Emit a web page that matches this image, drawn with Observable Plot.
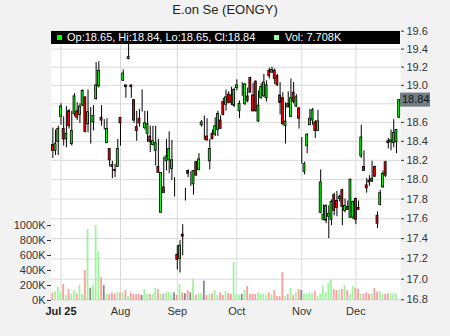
<!DOCTYPE html>
<html><head><meta charset="utf-8">
<script src="https://cdn.jsdelivr.net/npm/d3@7"></script>
<script src="https://cdn.jsdelivr.net/npm/@observablehq/plot@0.6"></script>
<style>
html,body{margin:0;padding:0;background:#f2f2f2;}
#wrap{position:relative;width:450px;height:336px;overflow:hidden;font-family:"Liberation Sans",Arial,sans-serif;}
#title{position:absolute;left:0;top:2px;width:450px;text-align:center;font-size:13px;line-height:16px;color:#222;}
.layer{position:absolute;left:0;top:20px;}
#legend{position:absolute;left:51px;top:31px;width:349px;height:13px;background:#000;color:#fff;font-size:11px;line-height:13px;white-space:nowrap;}
#legend .sq{position:absolute;top:4px;width:5px;height:5px;}
#legend .tx{position:absolute;top:0;}
</style></head>
<body>
<div id="wrap">
  <div id="title">E.on Se (EONGY)</div>
  <div id="p1" class="layer"></div>
  <div id="p2" class="layer"></div>
  <div id="legend"></div>
</div>
<script>
const title = "E.on Se (EONGY)";
const open  = [18.36,18.30,18.39,18.66,18.53,18.42,18.72,18.37,18.69,18.72,18.68,18.78,18.87,18.58,18.44,18.60,18.85,18.99,18.65,18.56,18.38,18.32,18.15,18.10,18.13,18.65,19.05,19.00,19.29,19.00,18.84,18.55,18.64,18.82,18.54,18.48,18.45,18.36,18.30,18.13,17.66,17.92,18.19,18.20,18.11,17.91,17.24,17.20,17.44,17.85,18.09,18.00,17.95,18.18,18.10,18.57,18.59,18.45,18.19,18.48,18.47,18.52,18.62,18.82,18.79,18.90,18.89,18.78,18.97,18.72,18.89,18.80,18.88,19.08,18.89,19.04,18.61,18.86,18.88,18.86,19.16,19.14,19.16,19.10,18.89,18.86,18.56,18.80,18.66,18.92,18.77,18.75,18.33,18.08,18.35,18.57,18.62,18.60,18.51,17.66,17.59,17.58,17.62,17.59,17.84,17.78,17.80,17.89,17.68,17.72,17.61,17.61,17.80,17.71,18.24,18.13,17.94,17.99,17.98,18.13,17.63,17.74,17.92,18.18,18.40,18.39,18.38,18.39,18.65];
const high  = [18.54,18.52,18.56,18.80,18.66,18.77,18.74,18.72,18.91,18.81,18.80,18.95,18.87,18.95,18.76,18.78,19.25,19.26,18.78,18.63,18.64,18.32,18.19,18.16,18.42,18.65,19.17,19.00,19.58,19.00,18.84,18.72,18.74,18.95,18.72,18.72,18.56,18.56,18.56,18.42,18.07,18.23,18.42,18.50,18.41,18.02,17.33,17.38,17.54,17.91,18.10,18.08,18.09,18.19,18.27,18.62,18.67,18.64,18.42,18.52,18.65,18.72,18.67,18.86,18.95,18.93,18.98,18.97,19.06,18.83,19.03,19.02,18.97,19.09,19.02,19.05,18.94,19.02,19.12,19.05,19.19,19.20,19.18,19.12,19.03,18.92,18.81,18.93,19.07,19.03,18.90,18.76,18.44,18.18,18.48,18.74,18.75,18.62,18.73,18.10,17.74,17.74,17.73,17.79,17.86,17.88,17.84,17.90,17.80,17.78,18.00,17.78,17.81,17.78,18.57,18.30,18.01,18.04,18.19,18.14,17.67,17.89,18.09,18.19,18.43,18.52,18.63,18.52,18.84];
const low   = [18.22,18.25,18.25,18.57,18.35,18.33,18.53,18.35,18.66,18.62,18.59,18.77,18.49,18.49,18.37,18.51,18.84,18.97,18.56,18.52,18.38,18.13,18.01,18.02,18.13,18.35,19.05,18.86,19.28,18.86,18.59,18.40,18.55,18.71,18.52,18.39,18.28,18.35,18.14,18.07,17.66,17.86,18.09,18.06,17.99,17.82,17.09,17.06,17.23,17.78,18.02,17.93,17.84,18.04,18.09,18.55,18.41,18.40,18.10,18.42,18.45,18.45,18.53,18.67,18.72,18.80,18.78,18.76,18.94,18.64,18.88,18.78,18.81,18.92,18.71,18.71,18.60,18.85,18.87,18.82,19.07,19.13,19.01,18.99,18.68,18.57,18.37,18.76,18.65,18.80,18.76,18.53,18.16,18.05,18.27,18.57,18.57,18.43,18.51,17.65,17.58,17.55,17.40,17.53,17.63,17.62,17.77,17.53,17.66,17.69,17.61,17.59,17.54,17.69,18.22,18.09,17.86,17.93,17.97,18.02,17.50,17.73,17.91,18.02,18.32,18.30,18.33,18.27,18.65];
const close = [18.30,18.37,18.53,18.77,18.42,18.48,18.56,18.51,18.88,18.65,18.77,18.94,18.50,18.71,18.44,18.67,19.00,19.16,18.62,18.56,18.53,18.20,18.13,18.09,18.32,18.59,19.13,18.98,19.31,18.98,18.62,18.51,18.59,18.82,18.59,18.58,18.39,18.40,18.38,18.07,18.07,17.86,18.24,18.32,18.20,17.91,17.19,17.33,17.42,17.85,18.06,18.00,18.09,18.04,18.21,18.60,18.59,18.41,18.32,18.42,18.56,18.69,18.53,18.68,18.87,18.81,18.81,18.95,19.00,18.80,18.89,19.01,18.83,18.92,18.72,18.72,18.78,18.98,19.03,19.00,19.10,19.17,19.07,19.00,18.81,18.58,18.61,18.76,18.86,18.82,18.87,18.64,18.33,18.16,18.47,18.64,18.73,18.51,18.61,17.97,17.64,17.73,17.65,17.77,17.68,17.71,17.82,17.72,17.73,17.69,18.00,17.77,17.59,17.69,18.44,18.09,17.91,17.97,18.01,18.03,17.55,17.86,18.06,18.04,18.38,18.41,18.49,18.52,18.84];
const volume = [100,120,178,102,213,67,147,80,133,89,
  200,80,400,947,164,200,1000,653,307,200,
  80,80,102,80,102,102,102,133,53,102,
  80,80,80,67,147,80,80,80,164,147,
  80,80,102,102,80,102,67,213,102,89,
  133,102,284,67,89,89,258,67,80,89,
  130,67,102,67,123,93,80,507,89,67,
  80,133,187,80,80,80,102,80,89,67,
  102,75,129,53,53,373,53,80,160,67,
  102,147,133,89,80,102,89,120,53,80,
  187,102,227,267,147,133,133,147,200,133,
  80,187,164,147,80,80,102,80,89,160,
  111,120,80,80,89,89,89,89,7.708];
const priceTicks = [16.8,17.0,17.2,17.4,17.6,17.8,18.0,18.2,18.4,18.6,18.8,19.0,19.2,19.4,19.6];
const volTicks = [0,200,400,600,800,1000];
const monthIdx = [3,25,46,68,92,112];
const monthLabels = ["Jul 25","Aug","Sep","Oct","Nov","Dec"];

const n = open.length;
const candles = open.map((o,i)=>({i, open:o, high:high[i], low:low[i], close:close[i], volume:volume[i]}));
const last = candles[n-1];
const bodyColor = d => d.close > d.open ? "#00ff00" : d.close < d.open ? "#ff0000" : "#000000";
const volColor = d => d.close > d.open ? "#9cf59c" : d.close < d.open ? "#ff9c9c" : "#888888";
const font = "'Liberation Sans', Arial, sans-serif";
const months = monthIdx.map((m,k)=>({i:m, label:monthLabels[k]}));
// axis labels hidden where the last-price box covers them
const axisTicks = priceTicks.filter(t => Math.abs(t - last.close) > 0.07);

const price = Plot.plot({
  width: 450, height: 316,
  marginTop: 10.7, marginBottom: 36.7, marginLeft: 51, marginRight: 50,
  style: {background: "transparent", fontFamily: font, fontSize: "11px", color: "#333", overflow: "visible"},
  x: {domain: [-0.5, n - 0.5], axis: null},
  y: {type: "log", domain: [16.8, 19.6], ticks: axisTicks, tickFormat: d => d.toFixed(1), axis: "right", tickSize: 3, tickPadding: 3, label: null},
  marks: [
    Plot.frame({fill: "white", stroke: "none"}),
    Plot.ruleY(priceTicks, {stroke: "#d9d9d9", strokeWidth: 1}),
    Plot.ruleX(monthIdx, {stroke: "#d9d9d9", strokeWidth: 1}),
    Plot.ruleX(candles, {x: "i", y1: "low", y2: "high", stroke: "#000", strokeWidth: 1}),
    Plot.rect(candles, {x1: d => d.i - 0.36, x2: d => d.i + 0.36, y1: "open", y2: "close", fill: bodyColor, stroke: "#000", strokeWidth: 0.8}),
    Plot.text(months.slice(0,1), {x: "i", text: "label", frameAnchor: "bottom", lineAnchor: "top", dy: 7.5, fontWeight: "bold", fill: "#222", fontSize: 11}),
    Plot.text(months.slice(1), {x: "i", text: "label", frameAnchor: "bottom", lineAnchor: "top", dy: 7.5, fill: "#333", fontSize: 11})
  ]
});
document.getElementById("p1").appendChild(price);

// last price box on the right axis
const ys = price.scale("y");
const yl = ys.apply(last.close);
const svg = d3.select(price);
const box = svg.append("g").attr("text-anchor", "start");
box.append("rect").attr("x", 400).attr("y", yl - 7).attr("width", 30).attr("height", 14).attr("fill", "#717d84");
box.append("text").attr("x", 402).attr("y", yl).attr("dy", "0.35em").attr("text-anchor", "start")
  .attr("font-size", 11).attr("fill", "#111").text(last.close.toFixed(2));

const vol = Plot.plot({
  width: 450, height: 316,
  marginTop: 205, marginBottom: 36, marginLeft: 51, marginRight: 50,
  style: {background: "transparent", fontFamily: font, fontSize: "11px", color: "#333", overflow: "visible"},
  x: {domain: [-0.5, n - 0.5], axis: null},
  y: {domain: [0, 1000], ticks: volTicks, tickFormat: d => d + "K", axis: "left", tickSize: 4, tickPadding: 2, label: null},
  marks: [
    Plot.rect(candles, {x1: d => d.i - 0.33, x2: d => d.i + 0.33, y1: 0, y2: "volume", fill: volColor})
  ]
});
document.getElementById("p2").appendChild(vol);

// legend bar
const lg = document.getElementById("legend");
lg.innerHTML =
  `<div class="sq" style="left:6px;background:#00ff00"></div>` +
  `<div class="tx" style="left:16px">Op:${last.open.toFixed(2)}, Hi:${last.high.toFixed(2)}, Lo:${last.low.toFixed(2)}, Cl:${last.close.toFixed(2)}</div>` +
  `<div class="sq" style="left:223px;background:#99ff99"></div>` +
  `<div class="tx" style="left:234px">Vol: ${last.volume}K</div>`;
</script>
</body></html>
